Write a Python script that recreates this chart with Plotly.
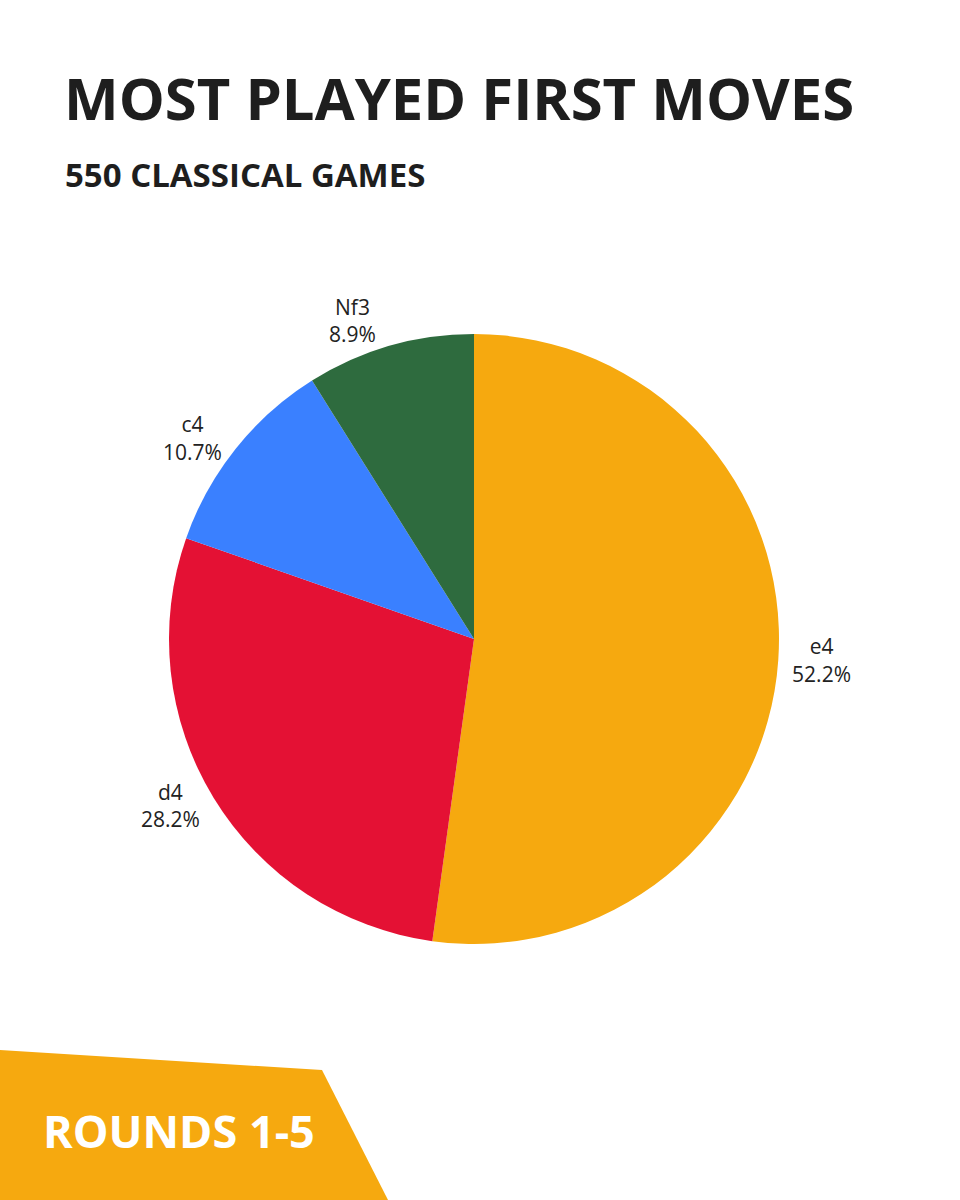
import plotly.graph_objects as go

moves = ["e4", "d4", "c4", "Nf3"]
games = [287, 155, 59, 49]
colors = ["#F6A90F", "#E41134", "#3A80FF", "#2E6B3E"]

W, H = 960, 1200

cx, cy, r = 474, 639, 305

fig = go.Figure(go.Pie(
    labels=moves, values=games, sort=False, direction="clockwise", rotation=0,
    marker=dict(colors=colors, line=dict(width=0)),
    textinfo="label+percent", textposition="outside", texttemplate="%{label}<br>%{percent:.1%}",
    textfont=dict(family="Open Sans", size=21, color="#222222"),
    domain=dict(x=[(cx - r) / W, (cx + r) / W], y=[1 - (cy + r) / H, 1 - (cy - r) / H]),
    showlegend=False, hoverinfo="label+value+percent",
))

fig.update_layout(
    width=W, height=H, margin=dict(l=0, r=0, t=0, b=0),
    paper_bgcolor="white", plot_bgcolor="white",
    xaxis=dict(visible=False, range=[0, W], fixedrange=True),
    yaxis=dict(visible=False, range=[H, 0], fixedrange=True),
    shapes=[dict(type="path", xref="x", yref="y",
                 path="M 0 1050 L 322 1070 L 388 1200 L 0 1200 Z",
                 fillcolor="#F6A90F", line=dict(width=0), layer="below")],
    annotations=[
        dict(text="<b>MOST PLAYED FIRST MOVES</b>", x=62, y=97, xref="x", yref="y",
             xanchor="left", yanchor="middle", showarrow=False,
             font=dict(family="Open Sans", size=58, color="#1E1E1E")),
        dict(text="<b>550 CLASSICAL GAMES</b>", x=63, y=174, xref="x", yref="y",
             xanchor="left", yanchor="middle", showarrow=False,
             font=dict(family="Open Sans", size=33, color="#1E1E1E")),
        dict(text="<b>ROUNDS 1-5</b>", x=41, y=1130, xref="x", yref="y",
             xanchor="left", yanchor="middle", showarrow=False,
             font=dict(family="Open Sans", size=45, color="white")),
    ],
)

fig.write_html("out.html", config={"displayModeBar": False},
               post_script="document.body.style.margin='0';")
